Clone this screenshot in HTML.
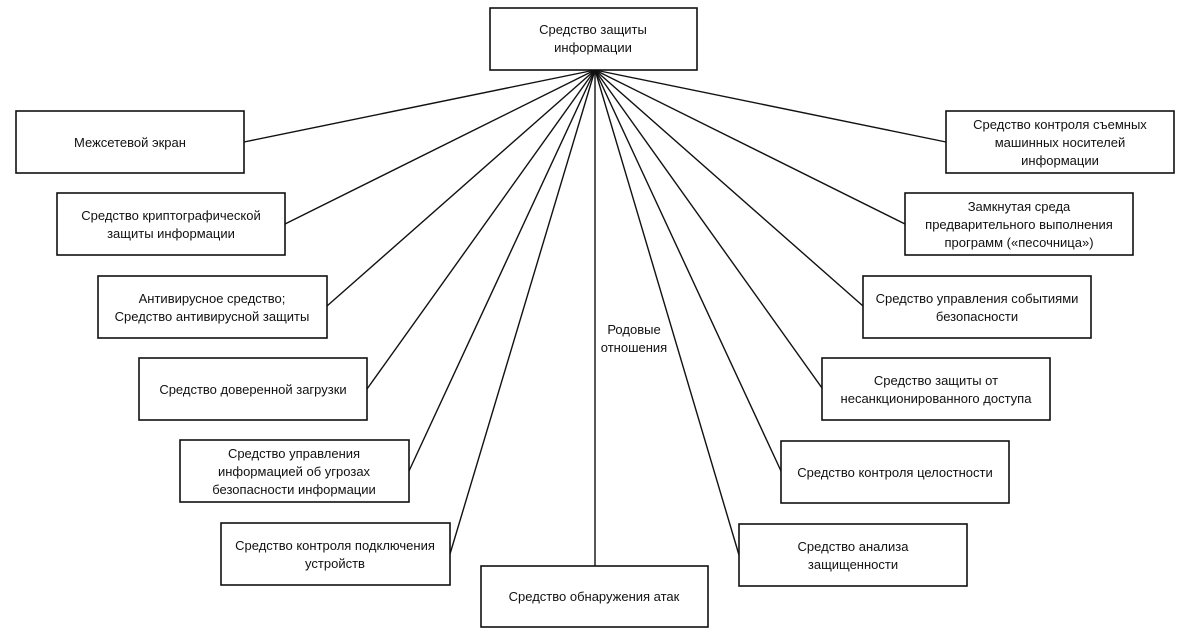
<!DOCTYPE html>
<html><head><meta charset="utf-8"><style>
html,body{margin:0;padding:0;background:#fff;}
svg text{font-family:"Liberation Sans",sans-serif;font-size:13px;fill:#111;text-anchor:middle;}
</style></head><body>
<svg width="1185" height="635" viewBox="0 0 1185 635" xmlns="http://www.w3.org/2000/svg">
<g stroke="#111" stroke-width="1.4" fill="none">
<line x1="595" y1="70" x2="244" y2="142"/>
<line x1="595" y1="70" x2="285" y2="224"/>
<line x1="595" y1="70" x2="327" y2="306"/>
<line x1="595" y1="70" x2="367" y2="389"/>
<line x1="595" y1="70" x2="409" y2="471"/>
<line x1="595" y1="70" x2="450" y2="554"/>
<line x1="595" y1="70" x2="595" y2="566"/>
<line x1="595" y1="70" x2="739" y2="555"/>
<line x1="595" y1="70" x2="781" y2="471"/>
<line x1="595" y1="70" x2="822" y2="388"/>
<line x1="595" y1="70" x2="863" y2="306"/>
<line x1="595" y1="70" x2="905" y2="224"/>
<line x1="595" y1="70" x2="946" y2="142"/>
</g>
<g stroke="#111" stroke-width="1.6" fill="#fff">
<rect x="490" y="8" width="207" height="62"/>
<rect x="16" y="111" width="228" height="62"/>
<rect x="57" y="193" width="228" height="62"/>
<rect x="98" y="276" width="229" height="62"/>
<rect x="139" y="358" width="228" height="62"/>
<rect x="180" y="440" width="229" height="62"/>
<rect x="221" y="523" width="229" height="62"/>
<rect x="481" y="566" width="227" height="61"/>
<rect x="946" y="111" width="228" height="62"/>
<rect x="905" y="193" width="228" height="62"/>
<rect x="863" y="276" width="228" height="62"/>
<rect x="822" y="358" width="228" height="62"/>
<rect x="781" y="441" width="228" height="62"/>
<rect x="739" y="524" width="228" height="62"/>
</g>
<rect x="602" y="320" width="66" height="36" fill="#fff"/>
<text x="593" y="34">Средство защиты</text>
<text x="593" y="52">информации</text>
<text x="130" y="147">Межсетевой экран</text>
<text x="171" y="220">Средство криптографической</text>
<text x="171" y="238">защиты информации</text>
<text x="212" y="303">Антивирусное средство;</text>
<text x="212" y="321">Средство антивирусной защиты</text>
<text x="253" y="394">Средство доверенной загрузки</text>
<text x="294" y="458">Средство управления</text>
<text x="294" y="476">информацией об угрозах</text>
<text x="294" y="494">безопасности информации</text>
<text x="335" y="550">Средство контроля подключения</text>
<text x="335" y="568">устройств</text>
<text x="594" y="601">Средство обнаружения атак</text>
<text x="1060" y="129">Средство контроля съемных</text>
<text x="1060" y="147">машинных носителей</text>
<text x="1060" y="165">информации</text>
<text x="1019" y="211">Замкнутая среда</text>
<text x="1019" y="229">предварительного выполнения</text>
<text x="1019" y="247">программ («песочница»)</text>
<text x="977" y="303">Средство управления событиями</text>
<text x="977" y="321">безопасности</text>
<text x="936" y="385">Средство защиты от</text>
<text x="936" y="403">несанкционированного доступа</text>
<text x="895" y="477">Средство контроля целостности</text>
<text x="853" y="551">Средство анализа</text>
<text x="853" y="569">защищенности</text>
<text x="634" y="334">Родовые</text>
<text x="634" y="352">отношения</text>
</svg>
</body></html>
